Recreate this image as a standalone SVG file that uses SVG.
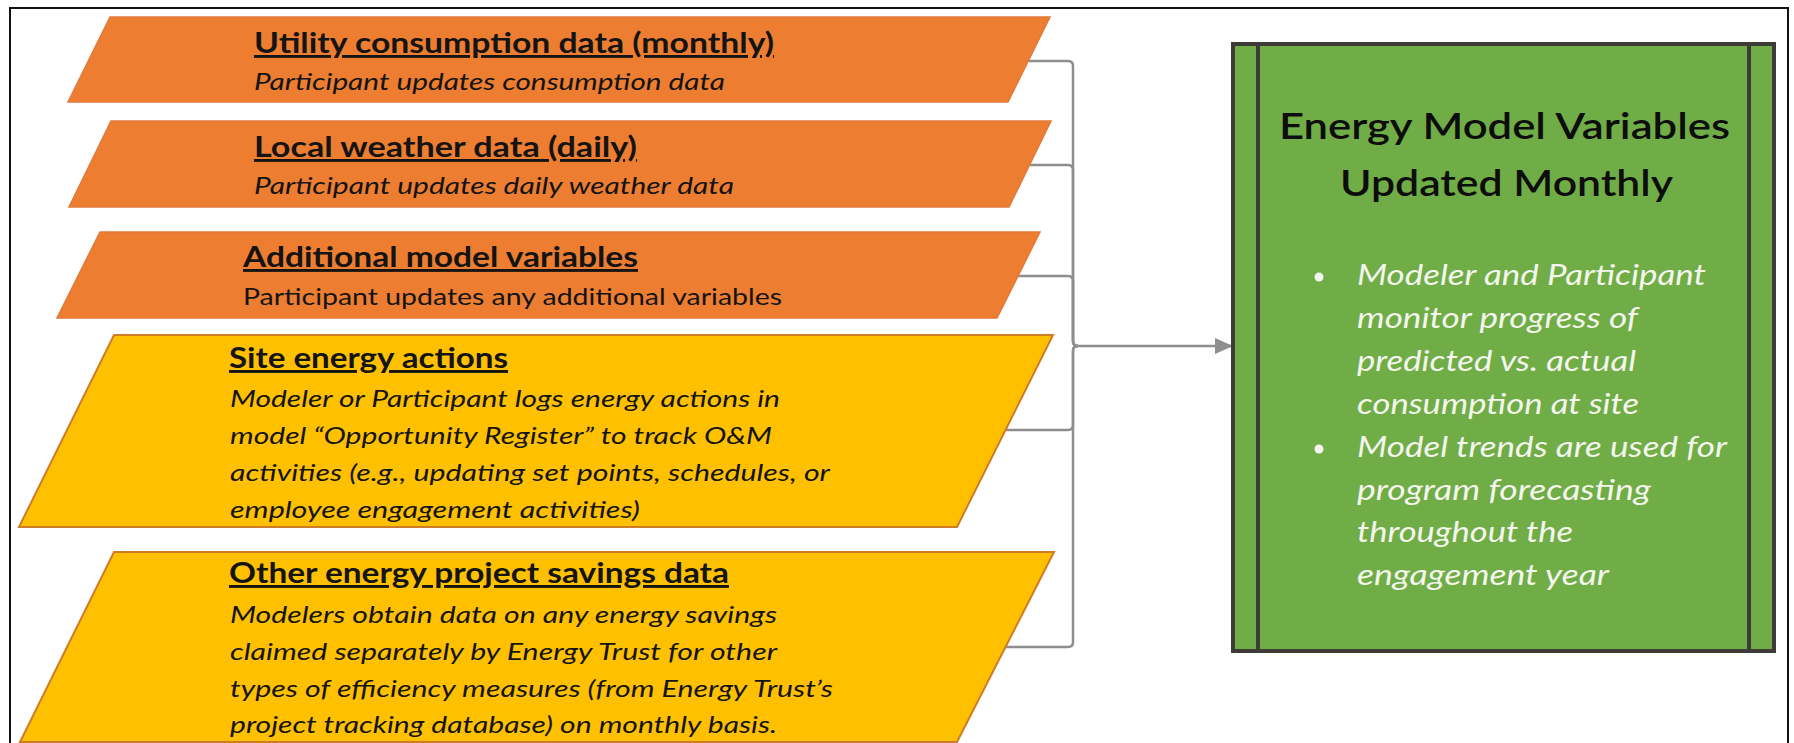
<svg xmlns="http://www.w3.org/2000/svg" width="1794" height="743" viewBox="0 0 1794 743">
  <defs>
    <style>
      .frame { fill: #ffffff; stroke: #111111; stroke-width: 2; }
      .orange { fill: #ED7D31; stroke: #E27A3A; stroke-width: 1.5; }
      .yellow { fill: #FFC000; stroke: #CE7C26; stroke-width: 2; }
      .green { fill: #70AD47; stroke: #3E3A35; stroke-width: 4; }
      .inner { stroke: #3E3A35; stroke-width: 4; fill: none; }
      .head { font-family: Lato, "Liberation Sans", sans-serif; font-weight: 700; font-size: 29px; fill: #141414; text-decoration: underline; }
      .body { font-family: Lato, "Liberation Sans", sans-serif; font-style: italic; font-size: 23px; fill: #141414; }
      .plain { font-family: Lato, "Liberation Sans", sans-serif; font-size: 23px; fill: #141414; }
      .gtitle { font-family: Lato, "Liberation Sans", sans-serif; font-weight: 600; font-size: 36px; fill: #0d0d0d; }
      .gbody { font-family: Lato, "Liberation Sans", sans-serif; font-style: italic; font-size: 29px; fill: #F4F6EE; }
      .link { fill: none; stroke: #8E8E8E; stroke-width: 2.5; }
    </style>
    <marker id="arrow" markerWidth="18" markerHeight="18" refX="18" refY="9" orient="auto" markerUnits="userSpaceOnUse" viewBox="0 0 18 18">
      <path d="M0,1 L18,9 L0,17 Z" fill="#8E8E8E"/>
    </marker>
  </defs>

  <!-- outer frame -->
  <rect class="frame" x="10" y="8" width="1778" height="760"/>

  <!-- connectors: elbow lines from each input to the monthly model box -->
  <g id="connectors">
    <path class="link" d="M1029,61 H1068 Q1073,61 1073,66 V341 Q1073,346 1078,346"/>
    <path class="link" d="M1030,165 H1068 Q1073,165 1073,170 V341 Q1073,346 1078,346"/>
    <path class="link" d="M1018,276 H1068 Q1073,276 1073,281 V341 Q1073,346 1078,346"/>
    <path class="link" d="M1006,430 H1068 Q1073,430 1073,425 V351 Q1073,346 1078,346"/>
    <path class="link" d="M1005,647 H1068 Q1073,647 1073,642 V351 Q1073,346 1078,346"/>
    <path class="link" d="M1078,346 H1233" marker-end="url(#arrow)"/>
  </g>

  <!-- input: utility consumption -->
  <g id="utility-consumption">
    <polygon class="orange" points="110,17 1050,17 1008,102 68,102"/>
    <text class="head" x="254" y="53" textLength="520" lengthAdjust="spacingAndGlyphs">Utility consumption data (monthly)</text>
    <text class="body" x="254" y="90" textLength="471" lengthAdjust="spacingAndGlyphs">Participant updates consumption data</text>
  </g>

  <!-- input: local weather -->
  <g id="local-weather">
    <polygon class="orange" points="111,121 1051,121 1009,207 69,207"/>
    <text class="head" x="254" y="157" textLength="383" lengthAdjust="spacingAndGlyphs">Local weather data (daily)</text>
    <text class="body" x="254" y="194" textLength="480" lengthAdjust="spacingAndGlyphs">Participant updates daily weather data</text>
  </g>

  <!-- input: additional variables -->
  <g id="additional-variables">
    <polygon class="orange" points="100,232 1040,232 997,318 57,318"/>
    <text class="head" x="243" y="267" textLength="395" lengthAdjust="spacingAndGlyphs">Additional model variables</text>
    <text class="plain" x="243" y="305" textLength="539" lengthAdjust="spacingAndGlyphs">Participant updates any additional variables</text>
  </g>

  <!-- input: site energy actions -->
  <g id="site-energy-actions">
    <polygon class="yellow" points="114,335 1053,335 957,527 19,527"/>
    <text class="head" x="229" y="368" textLength="279" lengthAdjust="spacingAndGlyphs">Site energy actions</text>
    <text class="body" x="230" y="407" textLength="550" lengthAdjust="spacingAndGlyphs">Modeler or Participant logs energy actions in</text>
    <text class="body" x="230" y="444" textLength="542" lengthAdjust="spacingAndGlyphs">model “Opportunity Register” to track O&amp;M</text>
    <text class="body" x="230" y="481" textLength="600" lengthAdjust="spacingAndGlyphs">activities (e.g., updating set points, schedules, or</text>
    <text class="body" x="230" y="518" textLength="410" lengthAdjust="spacingAndGlyphs">employee engagement activities)</text>
  </g>

  <!-- input: other project savings -->
  <g id="other-project-savings">
    <polygon class="yellow" points="114,552 1054,552 957,742 20,742"/>
    <text class="head" x="229" y="583" textLength="500" lengthAdjust="spacingAndGlyphs">Other energy project savings data</text>
    <text class="body" x="230" y="623" textLength="547" lengthAdjust="spacingAndGlyphs">Modelers obtain data on any energy savings</text>
    <text class="body" x="230" y="660" textLength="547" lengthAdjust="spacingAndGlyphs">claimed separately by Energy Trust for other</text>
    <text class="body" x="230" y="697" textLength="603" lengthAdjust="spacingAndGlyphs">types of efficiency measures (from Energy Trust’s</text>
    <text class="body" x="230" y="733" textLength="547" lengthAdjust="spacingAndGlyphs">project tracking database) on monthly basis.</text>
  </g>

  <!-- output: monthly model update -->
  <g id="model-variables">
    <rect class="green" x="1233" y="44" width="541" height="607"/>
    <line class="inner" x1="1258" y1="44" x2="1258" y2="651"/>
    <line class="inner" x1="1749" y1="44" x2="1749" y2="651"/>
    <text class="gtitle" x="1279" y="139" textLength="451" lengthAdjust="spacingAndGlyphs">Energy Model Variables</text>
    <text class="gtitle" x="1340" y="196" textLength="333" lengthAdjust="spacingAndGlyphs">Updated Monthly</text>
    <circle cx="1319" cy="277" r="4.5" fill="#F4F6EE"/>
    <circle cx="1319" cy="449" r="4.5" fill="#F4F6EE"/>
    <text class="gbody" x="1357" y="285" textLength="349" lengthAdjust="spacingAndGlyphs">Modeler and Participant</text>
    <text class="gbody" x="1357" y="328" textLength="281" lengthAdjust="spacingAndGlyphs">monitor progress of</text>
    <text class="gbody" x="1357" y="371" textLength="279" lengthAdjust="spacingAndGlyphs">predicted vs. actual</text>
    <text class="gbody" x="1357" y="414" textLength="282" lengthAdjust="spacingAndGlyphs">consumption at site</text>
    <text class="gbody" x="1357" y="457" textLength="370" lengthAdjust="spacingAndGlyphs">Model trends are used for</text>
    <text class="gbody" x="1357" y="500" textLength="294" lengthAdjust="spacingAndGlyphs">program forecasting</text>
    <text class="gbody" x="1357" y="542" textLength="216" lengthAdjust="spacingAndGlyphs">throughout the</text>
    <text class="gbody" x="1357" y="585" textLength="252" lengthAdjust="spacingAndGlyphs">engagement year</text>
  </g>
</svg>
